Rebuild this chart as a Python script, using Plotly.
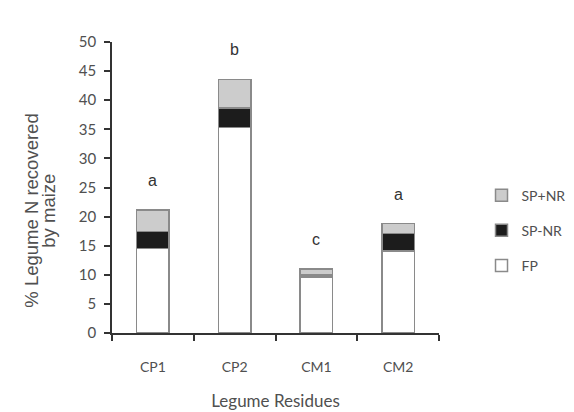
import plotly.graph_objects as go

categories = ["CP1", "CP2", "CM1", "CM2"]
fp = [14.5, 35.3, 9.6, 14.1]
sp_nr = [2.9, 3.4, 0.4, 3.0]
sp_plus_nr = [3.7, 4.9, 1.0, 1.7]
letters = ["a", "b", "c", "a"]
y_title_lines = ["% Legume N recovered", "by maize"]

totals = [a + b + c for a, b, c in zip(fp, sp_nr, sp_plus_nr)]

line_col = "#8a8a8a"
text_col = "#505050"

fig = go.Figure()
series = [("FP", fp, "#ffffff", 3), ("SP-NR", sp_nr, "#1c1c1c", 2), ("SP+NR", sp_plus_nr, "#cccccc", 1)]
for name, vals, col, rank in series:
    fig.add_trace(go.Bar(
        x=categories, y=vals, name=name, width=0.4,
        marker=dict(color=col, line=dict(color=line_col, width=1.5)),
        legendgroup=name, legendrank=rank,
    ))

for cat, tot, let in zip(categories, totals, letters):
    fig.add_annotation(x=cat, y=tot, text=let, showarrow=False, yanchor="bottom",
                       yshift=19, font=dict(family="Liberation Sans", size=16, color="#333333"))

for xpos, line in zip([-0.245, -0.193], y_title_lines):
    fig.add_annotation(xref="paper", yref="paper", x=xpos, y=0.42, xanchor="center", yanchor="middle",
                       text=line, textangle=-90, showarrow=False,
                       font=dict(family="Liberation Sans", size=18.5, color=text_col))

fig.update_layout(
    width=574, height=412,
    margin=dict(l=104, r=95, t=34, b=87),
    paper_bgcolor="white", plot_bgcolor="white",
    barmode="stack", bargap=0.6,
    font=dict(family="Lato", size=13, color=text_col),
    legend=dict(x=1.13, y=0.352, xanchor="left", yanchor="middle",
                traceorder="grouped", tracegroupgap=14,
                font=dict(family="Lato", size=14, color=text_col)),
    showlegend=True,
)
fig.update_xaxes(
    showline=True, linecolor="#333333", linewidth=1.5,
    ticks="outside", tickson="boundaries", ticklen=6, tickcolor="#333333", tickwidth=1.5,
    showgrid=False, ticklabelstandoff=20, automargin=False,
    tickfont=dict(family="Lato", size=14, color=text_col),
    title=dict(text="Legume Residues", font=dict(family="Lato", size=17, color=text_col), standoff=22),
)
fig.update_yaxes(
    range=[0, 50], dtick=5, showline=True, linecolor="#333333", linewidth=1.5,
    ticks="outside", ticklen=6, tickcolor="#333333", tickwidth=1.5,
    showgrid=False, zeroline=False, ticklabelstandoff=5, automargin=False,
    tickfont=dict(family="Lato", size=15, color=text_col),
)

fig.write_html("out.html")
